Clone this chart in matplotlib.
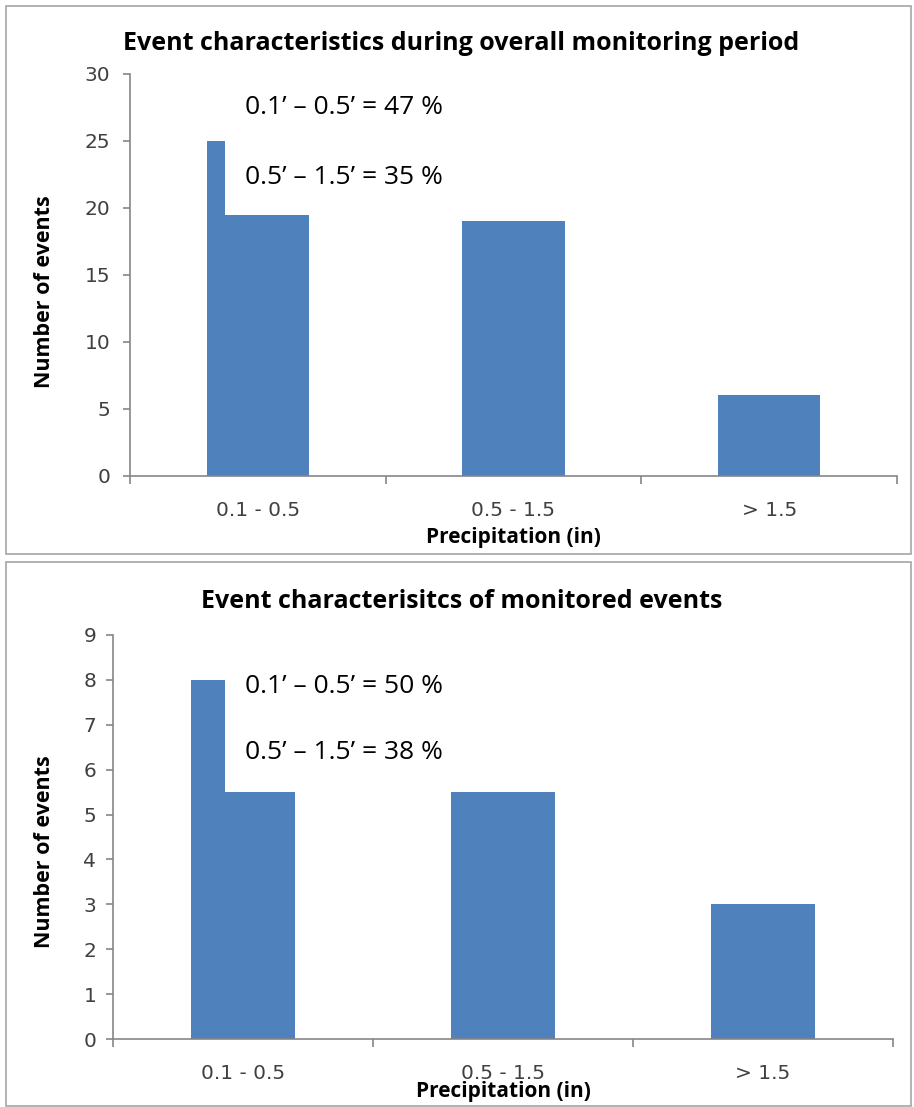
import matplotlib
matplotlib.use("Agg")
import matplotlib.pyplot as plt
from matplotlib.patches import Rectangle

# precipitation classes and event counts
categories = ["0.1 - 0.5", "0.5 - 1.5", "> 1.5"]
overall_counts = [25, 19, 6]
monitored_counts = [8, 5.5, 3]
overall_notes = ["0.1\u2019 \u2013 0.5\u2019 = 47 %", "0.5\u2019 \u2013 1.5\u2019 = 35 %"]
monitored_notes = ["0.1\u2019 \u2013 0.5\u2019 = 50 %", "0.5\u2019 \u2013 1.5\u2019 = 38 %"]

BAR = "#4F81BD"
AXIS = "#868686"
TICK = "#404040"
HEAD = "Open Sans"
TICKFONT = "DejaVu Sans"

fig = plt.figure(figsize=(9.14, 11.07), dpi=100)

# grey frames round each chart
for x0, y0, w, h in [(0.007, 0.500, 0.990, 0.4945), (0.007, 0.001, 0.990, 0.4915)]:
    fig.patches.append(Rectangle((x0, y0), w, h, transform=fig.transFigure,
                                 fill=False, edgecolor="#a6a6a6", linewidth=1.2))


def draw(rect, counts, ymax, step, title, title_y, ylab_y, xlab_y, notes, box, note_pos, ypad):
    ax = fig.add_axes(rect)
    x = range(len(categories))
    ax.bar(x, counts, width=0.4, color=BAR, zorder=2)
    ax.set_xlim(-0.5, len(categories) - 0.5)
    ax.set_ylim(0, ymax)
    ax.set_yticks(range(0, ymax + 1, step))
    ax.set_xticks([i - 0.5 for i in range(len(categories) + 1)], minor=False)
    ax.set_xticklabels([])
    ax.set_xticks(list(x), minor=True)
    ax.set_xticklabels(categories, minor=True, family=TICKFONT)
    ax.set_yticklabels([str(v) for v in range(0, ymax + 1, step)], family=TICKFONT)
    ax.tick_params(axis="x", which="minor", length=0, pad=18,
                   labelsize=14.5, labelcolor=TICK)
    ax.tick_params(axis="x", which="major", length=6, color=AXIS, width=1.2)
    ax.tick_params(axis="y", length=5, color=AXIS, width=1.2,
                   labelsize=14.5, labelcolor=TICK, pad=ypad)
    for s in ["top", "right"]:
        ax.spines[s].set_visible(False)
    for s in ["left", "bottom"]:
        ax.spines[s].set_color(AXIS)
        ax.spines[s].set_linewidth(1.2)

    # white text box laid over the first bar
    bx0, by0, bx1, by1 = box
    ax.add_patch(Rectangle((bx0, by0), bx1 - bx0, by1 - by0, facecolor="white",
                           edgecolor="none", zorder=3, clip_on=False))
    for (nx, ny), note in zip(note_pos, notes):
        ax.text(nx, ny, note, fontsize=19, family=HEAD, color="black",
                ha="left", va="center", zorder=4)

    fig.text(0.505, title_y, title, fontsize=18, family=HEAD, weight="bold",
             ha="center", va="center", color="black")
    fig.text(0.049, ylab_y, "Number of events", fontsize=15.5, family=HEAD,
             weight="bold", rotation=90, ha="center", va="center")
    fig.text(rect[0] + rect[2] / 2, xlab_y, "Precipitation (in)", fontsize=15,
             family=HEAD, weight="bold", ha="center", va="center")
    return ax


draw([0.1422, 0.5703, 0.8392, 0.3629], overall_counts, 30, 5,
     "Event characteristics during overall monitoring period",
     1 - 43 / 1107, 1 - 292 / 1107, 1 - 537 / 1107,
     overall_notes, (-0.128, 19.5, 0.78, 30), [(-0.05, 27.5), (-0.05, 22.3)], 9)

draw([0.1236, 0.0614, 0.8534, 0.3650], monitored_counts, 9, 1,
     "Event characterisitcs of monitored events",
     1 - 602 / 1107, 1 - 852 / 1107, 1 - 1092 / 1107,
     monitored_notes, (-0.069, 5.5, 0.78, 9), [(0.008, 7.85), (0.008, 6.38)], 7)

fig.savefig("out.png", dpi=100)
